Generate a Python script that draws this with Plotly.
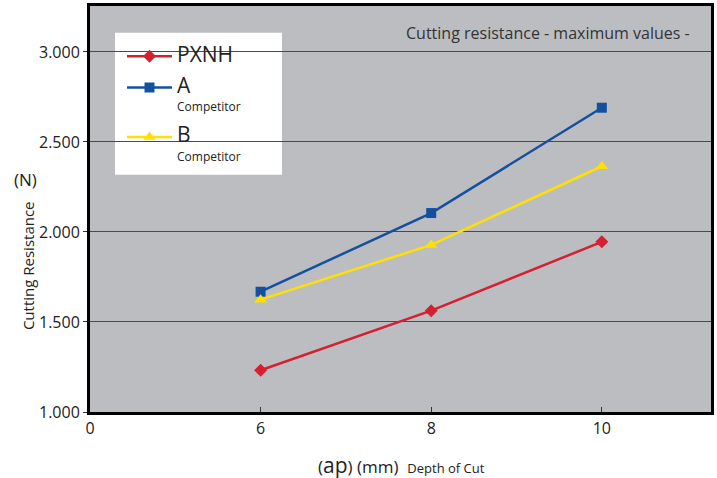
import plotly.graph_objects as go

depth_labels = ["0", "6", "8", "10"]
depth = ["6", "8", "10"]
pxnh = [1232, 1563, 1945]
comp_a = [1668, 2105, 2690]
comp_b = [1624, 1928, 2365]
y_ticks = [1000, 1500, 2000, 2500, 3000]

FONT = "Open Sans"
L, R, T, B = 90, 6, 3, 66
PW, PH = 717 - L - R, 478 - T - B

def px(x):
    return (x - L) / PW

def py(y):
    return (478 - B - y) / PH

BIG = "<span style='font-size:21px'>{}</span>"
SMALL = "<span style='font-size:12px'>{}</span>"

fig = go.Figure()
fig.add_trace(go.Scatter(x=depth, y=pxnh, mode="lines+markers", name=BIG.format("PXNH"),
                         legendgroup="p",
                         line=dict(color="#d42030", width=2.5),
                         marker=dict(symbol="diamond", size=10, color="#d42030")))
fig.add_trace(go.Scatter(x=depth, y=comp_a, mode="lines+markers",
                         name=BIG.format("A") + "<br>" + SMALL.format("Competitor"), legendgroup="a",
                         line=dict(color="#1450a0", width=2.5),
                         marker=dict(symbol="square", size=10, color="#1450a0")))
fig.add_trace(go.Scatter(x=depth, y=comp_b, mode="lines+markers",
                         name=BIG.format("B") + "<br>" + SMALL.format("Competitor"), legendgroup="b",
                         line=dict(color="#ffe000", width=2.5),
                         marker=dict(symbol="triangle-up", size=11, color="#ffe000")))

fig.add_shape(type="rect", xref="paper", yref="paper",
              x0=px(115), x1=px(282), y0=py(173), y1=py(30),
              fillcolor="white", line=dict(width=0), layer="below")

fig.update_layout(
    width=717, height=478,
    margin=dict(l=L, r=R, t=T, b=B),
    paper_bgcolor="white", plot_bgcolor="#bcbdc1",
    separators=",.",
    font=dict(family=FONT, color="#222"),
    showlegend=True,
    legend=dict(x=px(122), y=py(38), xanchor="left", yanchor="top",
                bgcolor="rgba(0,0,0,0)", borderwidth=0,
                font=dict(size=14, family=FONT, color="#222"),
                itemwidth=45, tracegroupgap=10, valign="top"),
    xaxis=dict(type="category", categoryorder="array", categoryarray=depth_labels,
               range=[0, 3.64], showgrid=False, zeroline=False,
               showline=True, linecolor="black", linewidth=3, mirror=True,
               ticks="inside", ticklen=5, tickcolor="#333",
               tickfont=dict(size=16, family=FONT, color="#222")),
    yaxis=dict(range=[1000, 3255], tickvals=y_ticks, tickformat=",d",
               showgrid=True, gridcolor="#4a4a4a", gridwidth=1, zeroline=False,
               showline=True, linecolor="black", linewidth=3, mirror=True,
               ticks="outside", ticklen=4, tickcolor="#333",
               tickfont=dict(size=16, family=FONT, color="#222")),
)

fig.add_annotation(text="Cutting resistance - maximum values -", xref="paper", yref="paper",
                   x=px(692), y=py(30), xanchor="right", yanchor="middle", showarrow=False,
                   font=dict(size=16, family=FONT, color="#333"))
fig.add_annotation(text="Cutting Resistance", xref="paper", yref="paper",
                   x=px(28), y=py(265), xanchor="center", yanchor="middle", textangle=-90,
                   showarrow=False, font=dict(size=15, family=FONT, color="#222"))
fig.add_annotation(text="(N)", xref="paper", yref="paper",
                   x=px(25), y=py(178), xanchor="center", yanchor="middle",
                   showarrow=False, font=dict(size=17, family=FONT, color="#222"))
fig.add_annotation(text="(<span style='font-size:21px'>ap</span>) (mm)  <span style='font-size:13px'>Depth of Cut</span>",
                   xref="paper", yref="paper", x=px(401), y=py(465), xanchor="center", yanchor="middle",
                   showarrow=False, font=dict(size=17, family=FONT, color="#222"))

fig.write_html("out.html", config={"displayModeBar": False},
               post_script="document.body.style.margin='0';")
